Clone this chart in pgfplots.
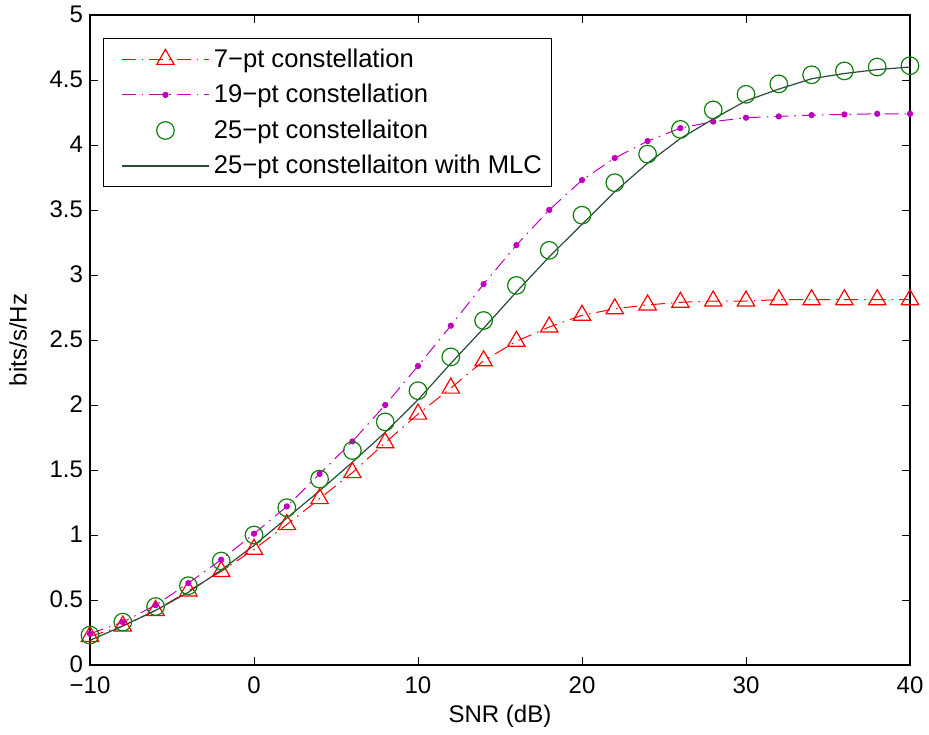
\documentclass[border=0pt]{standalone}
\usepackage{fontspec}
\setmainfont{Liberation Sans}
\usepackage{pgfplots}
\pgfplotsset{compat=1.18}
\definecolor{myred}{rgb}{1,0,0}
\definecolor{mymag}{rgb}{0.75,0,0.75}
\definecolor{mygreen}{rgb}{0.05,0.5,0.05}
\definecolor{myline}{rgb}{0.16,0.30,0.22}
\begin{document}
\begin{tikzpicture}
\begin{axis}[
  scale only axis,
  width=410pt, height=325pt,
  xmin=-10, xmax=40, ymin=0, ymax=5,
  xtick={-10,0,10,20,30,40},
  xticklabels={−10,0,10,20,30,40},
  ytick={0,0.5,1,1.5,2,2.5,3,3.5,4,4.5,5},
  yticklabels={0,0.5,1,1.5,2,2.5,3,3.5,4,4.5,5},
  tick align=inside,
  major tick length=4pt,
  tick style={black, line width=0.5pt},
  axis line style={black, line width=0.75pt},
  ticklabel style={font=\fontsize{12}{14}\selectfont},
  xticklabel style={yshift=-2.5pt},
  yticklabel style={yshift=0.5pt},
  label style={font=\fontsize{12}{14}\selectfont},
  xlabel={SNR (dB)},
  ylabel={bits/s/Hz},
  xlabel style={at={(axis description cs:0.5,0)}, yshift=-25.5pt, anchor=center},
  ylabel style={at={(axis description cs:-0.0878,0.5)}, anchor=center},
  legend cell align=left,
  legend style={at={(rel axis cs:0.0159,0.9646)}, anchor=north west,
    font=\fontsize{12.8}{15}\selectfont, draw=black, line width=0.6pt,
    inner xsep=3pt, inner ysep=3pt, row sep=3pt},
  legend image code/.code={%
    \path (0cm,0cm);
    \draw[mark repeat=2,mark phase=2] plot coordinates {(0.2cm,0cm) (0.97cm,0cm) (1.74cm,0cm)};},
]
\addplot[myred, line width=0.5pt, dash pattern=on 7pt off 3pt on 0.8pt off 3pt,
  mark=triangle, mark size=5pt, mark options={solid, line width=0.6pt}] coordinates {
(-10,0.22) (-8,0.30) (-6,0.42) (-4,0.57) (-2,0.72) (0,0.89) (2,1.08) (4,1.28)
(6,1.48) (8,1.71) (10,1.93) (12,2.13) (14,2.34) (16,2.49) (18,2.60) (20,2.69)
(22,2.74) (24,2.77) (26,2.79) (28,2.80) (30,2.80) (32,2.81) (34,2.81) (36,2.81)
(38,2.81) (40,2.81)};
\addlegendentry{7−pt constellation}
\addplot[mymag, line width=0.5pt, dash pattern=on 7pt off 3pt on 0.8pt off 3pt,
  mark=*, mark size=1.3pt, mark options={solid}] coordinates {
(-10,0.24) (-8,0.33) (-6,0.46) (-4,0.63) (-2,0.81) (0,1.01) (2,1.22) (4,1.47)
(6,1.72) (8,2.00) (10,2.30) (12,2.61) (14,2.93) (16,3.23) (18,3.50) (20,3.73)
(22,3.90) (24,4.03) (26,4.13) (28,4.18) (30,4.21) (32,4.22) (34,4.23) (36,4.235)
(38,4.24) (40,4.24)};
\addlegendentry{19−pt constellation}
\addplot[mygreen, only marks, mark=o, mark size=4.4pt, mark options={line width=0.6pt}] coordinates {
(-10,0.23) (-8,0.33) (-6,0.45) (-4,0.61) (-2,0.80) (0,1.00) (2,1.21) (4,1.43)
(6,1.65) (8,1.87) (10,2.11) (12,2.37) (14,2.65) (16,2.92) (18,3.19) (20,3.46)
(22,3.71) (24,3.93) (26,4.12) (28,4.27) (30,4.39) (32,4.47) (34,4.54) (36,4.57)
(38,4.60) (40,4.61)};
\addlegendentry{25−pt constellaiton}
\addplot[myline, line width=0.6pt, mark=none] coordinates {
(-10,0.19) (-8,0.30) (-6,0.42) (-4,0.56) (-2,0.73) (0,0.92) (2,1.13) (4,1.34)
(6,1.56) (8,1.79) (10,2.04) (12,2.32) (14,2.59) (16,2.87) (18,3.14) (20,3.39)
(22,3.64) (24,3.86) (26,4.05) (28,4.20) (30,4.34) (32,4.43) (34,4.51) (36,4.55)
(38,4.58) (40,4.60)};
\addlegendentry{25−pt constellaiton with MLC}
\end{axis}
\pgfresetboundingbox
\path ([shift={(-45pt,-34.5pt)}]current axis.south west) rectangle ([shift={(9.5pt,7.5pt)}]current axis.north east);
\end{tikzpicture}
\end{document}
